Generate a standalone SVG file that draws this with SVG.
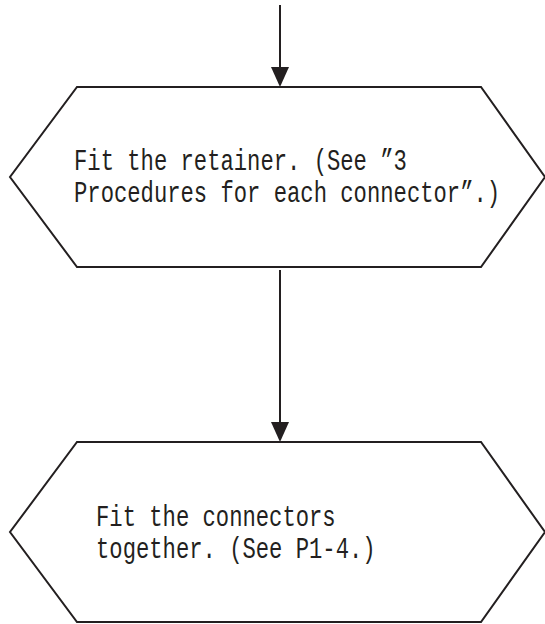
<svg xmlns="http://www.w3.org/2000/svg" width="545" height="624" viewBox="0 0 545 624">
<style>
.shape{fill:#fff;stroke:#231f20;stroke-width:2}
.line{stroke:#231f20;stroke-width:2;fill:none}
.head{fill:#231f20}
.t{font-family:"Liberation Mono","DejaVu Sans Mono",monospace;font-size:22.2px;fill:#231f20}
</style>
<rect width="545" height="624" fill="#fff"/>
<g id="connectors">
<line class="line" x1="280" y1="5" x2="280" y2="70"/>
<polygon class="head" points="271,67 289,67 280,87"/>
<line class="line" x1="280" y1="270" x2="280" y2="425"/>
<polygon class="head" points="271,422 289,422 280,442"/>
</g>
<g id="node1">
<polygon class="shape" points="77,87 481,87 545,177 481,267 77,267 10,177"/>
<text class="t" transform="translate(74,170) scale(1,1.35)">Fit the retainer. (See ”3</text>
<text class="t" transform="translate(74,202) scale(1,1.35)">Procedures for each connector”.)</text>
</g>
<g id="node2">
<polygon class="shape" points="77,442 481,442 545,532 481,622 77,622 10,532"/>
<text class="t" transform="translate(96,526) scale(1,1.35)">Fit the connectors</text>
<text class="t" transform="translate(96,558) scale(1,1.35)">together. (See P1-4.)</text>
</g>
</svg>
